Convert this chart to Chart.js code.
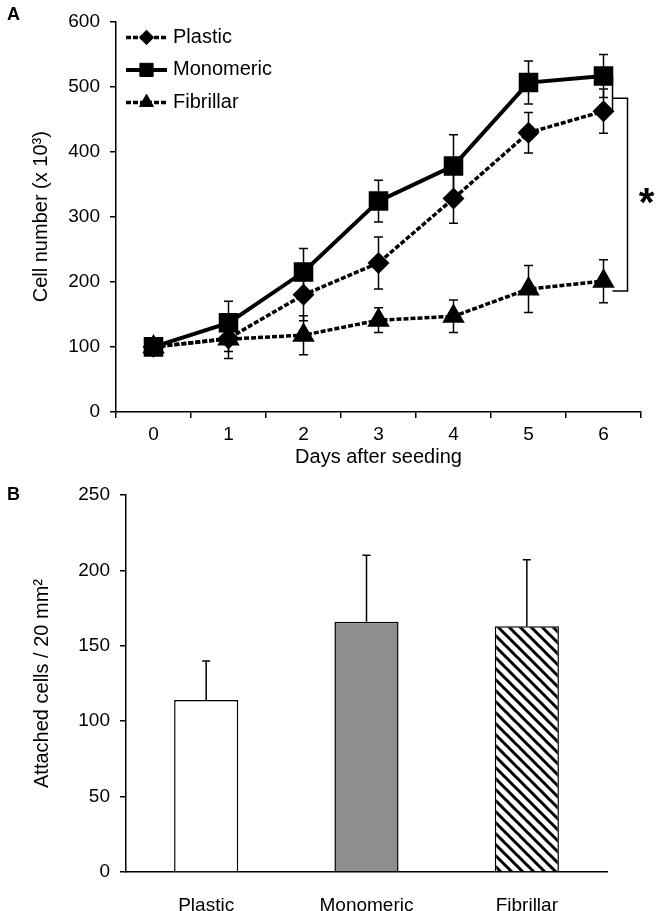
<!DOCTYPE html>
<html>
<head>
<meta charset="utf-8">
<script src="https://cdn.jsdelivr.net/npm/chart.js@4.4.1/dist/chart.umd.min.js"></script>
<style>
    body { margin: 0; background: #fff; }
    #wrap { position: relative; width: 661px; height: 911px; }
    canvas { position: absolute; left: 0; }
    #growthChart { top: 0; }
    #attachChart { top: 470px; }
    .panel { position: absolute; left: 7px; font: bold 18px "Liberation Sans", Arial, sans-serif; line-height: 18px; }
</style>
</head>
<body>
<div id="wrap">
    <canvas id="growthChart" width="661" height="470"></canvas>
    <canvas id="attachChart" width="661" height="441"></canvas>
    <div class="panel" style="top:5px">A</div>
    <div class="panel" style="top:485px">B</div>
</div>
<script>
// Panel A - cell number over time
const days = ['0', '1', '2', '3', '4', '5', '6'];
const plastic = [100, 113, 180, 229, 328, 429, 462];
const plasticErr = [0, 20, 40, 40, 38, 31, 34];
const monomeric = [100, 137, 215, 324, 378, 506, 516];
const monomericErr = [0, 33, 36, 32, 48, 33, 33];
const fibrillar = [100, 112, 118, 141, 147, 189, 201];
const fibrillarErr = [0, 30, 30, 19, 25, 36, 33];
const growthTicks = [0, 100, 200, 300, 400, 500, 600];

// significance brackets at day 6 (values on the y scale)
const innerBracket = [515, 462];
const outerBracket = [482, 186];

// Panel B - attachment
const surfaces = ['Plastic', 'Monomeric', 'Fibrillar'];
const attached = [114, 166, 163];
const attachedErr = [26, 44, 44];
const attachTicks = [0, 50, 100, 150, 200, 250];

const FONT = '"Liberation Sans", Arial, Helvetica, sans-serif';
Chart.defaults.font.family = FONT;
Chart.defaults.font.size = 19;
Chart.defaults.color = '#000';

/**
 * Error bars drawn from each dataset's "errors" array
 */
const errorBars = {
    id: 'errorBars',
    afterDatasetsDraw(chart, args, opts) {
        const ctx = chart.ctx;
        const y = chart.scales.y;
        const cap = opts.cap || 4;
        ctx.save();
        ctx.strokeStyle = '#000';
        ctx.lineWidth = 1.5;
        chart.data.datasets.forEach((ds, i) => {
            if (!ds.errors) return;
            chart.getDatasetMeta(i).data.forEach((el, j) => {
                const e = ds.errors[j];
                if (!e) return;
                const top = y.getPixelForValue(ds.data[j] + e);
                const bot = opts.upperOnly ? el.y : y.getPixelForValue(ds.data[j] - e);
                ctx.beginPath();
                ctx.moveTo(el.x, top);
                ctx.lineTo(el.x, bot);
                ctx.moveTo(el.x - cap, top);
                ctx.lineTo(el.x + cap, top);
                if (!opts.upperOnly) {
                    ctx.moveTo(el.x - cap, bot);
                    ctx.lineTo(el.x + cap, bot);
                }
                ctx.stroke();
            });
        });
        ctx.restore();
    }
};

/**
 * Legend inside the plot: line sample + marker + label
 */
const lineLegend = {
    id: 'lineLegend',
    afterDraw(chart) {
        const ctx = chart.ctx;
        const x0 = chart.chartArea.left + 10;
        chart.data.datasets.forEach((ds, i) => {
            const yy = chart.chartArea.top + 16 + i * 32.5;
            ctx.save();
            ctx.strokeStyle = '#000';
            ctx.fillStyle = '#000';
            ctx.lineWidth = ds.borderWidth;
            ctx.setLineDash(ds.borderDash || []);
            ctx.beginPath();
            ctx.moveTo(x0, yy);
            ctx.lineTo(x0 + 41, yy);
            ctx.stroke();
            ctx.setLineDash([]);
            ctx.lineWidth = 1;
            Chart.helpers.drawPoint(ctx, {
                pointStyle: ds.pointStyle,
                radius: ds.pointRadius * 0.85,
                borderWidth: 1,
                rotation: 0
            }, x0 + 20.5, yy);
            ctx.font = '20px ' + FONT;
            ctx.textBaseline = 'middle';
            ctx.textAlign = 'left';
            ctx.fillText(ds.label, x0 + 47, yy);
            ctx.restore();
        });
    }
};

/**
 * Significance brackets with asterisk
 */
const bracket = {
    id: 'bracket',
    afterDraw(chart) {
        const { ctx } = chart;
        const x = chart.scales.x;
        const y = chart.scales.y;
        const xp = x.getPixelForValue(days.length - 1);
        const xa = xp + 9;
        const xb = xp + 24;
        ctx.save();
        ctx.strokeStyle = '#000';
        ctx.lineWidth = 1.5;
        ctx.beginPath();
        ctx.moveTo(xp + 2, y.getPixelForValue(innerBracket[0]));
        ctx.lineTo(xa, y.getPixelForValue(innerBracket[0]));
        ctx.lineTo(xa, y.getPixelForValue(innerBracket[1]));
        ctx.lineTo(xp + 3, y.getPixelForValue(innerBracket[1]));
        ctx.moveTo(xa, y.getPixelForValue(outerBracket[0]));
        ctx.lineTo(xb, y.getPixelForValue(outerBracket[0]));
        ctx.lineTo(xb, y.getPixelForValue(outerBracket[1]));
        ctx.lineTo(xa, y.getPixelForValue(outerBracket[1]));
        ctx.stroke();
        const mid = (y.getPixelForValue(outerBracket[0]) + y.getPixelForValue(outerBracket[1])) / 2;
        ctx.fillStyle = '#000';
        ctx.font = 'bold 40px ' + FONT;
        ctx.textAlign = 'center';
        ctx.textBaseline = 'alphabetic';
        ctx.fillText('*', xb + 19, mid + 21);
        ctx.restore();
    }
};

function hatchPattern() {
    const c = document.createElement('canvas');
    c.width = 11;
    c.height = 11;
    const g = c.getContext('2d');
    g.fillStyle = '#fff';
    g.fillRect(0, 0, 11, 11);
    g.strokeStyle = '#000';
    g.lineWidth = 3;
    g.beginPath();
    g.moveTo(-2, -2); g.lineTo(13, 13);
    g.moveTo(-2, 9); g.lineTo(2, 13);
    g.moveTo(9, -2); g.lineTo(13, 2);
    g.stroke();
    return g.createPattern(c, 'repeat');
}

const axisGrid = { drawOnChartArea: false, color: '#000', lineWidth: 1.5, tickLength: 6 };
const axisBorder = { color: '#000', width: 1.5 };

new Chart(document.getElementById('growthChart'), {
    type: 'line',
    data: {
        labels: days,
        datasets: [
            {
                label: 'Plastic',
                data: plastic,
                errors: plasticErr,
                borderColor: '#000',
                backgroundColor: '#000',
                borderWidth: 3.5,
                borderDash: [5, 2],
                pointStyle: 'rectRot',
                pointRadius: 8.5,
                tension: 0
            },
            {
                label: 'Monomeric',
                data: monomeric,
                errors: monomericErr,
                borderColor: '#000',
                backgroundColor: '#000',
                borderWidth: 4,
                pointStyle: 'rect',
                pointRadius: 11,
                tension: 0
            },
            {
                label: 'Fibrillar',
                data: fibrillar,
                errors: fibrillarErr,
                borderColor: '#000',
                backgroundColor: '#000',
                borderWidth: 3.5,
                borderDash: [5, 2],
                pointStyle: 'triangle',
                pointRadius: 9.5,
                tension: 0
            }
        ]
    },
    options: {
        responsive: false,
        animation: false,
        layout: { padding: { left: 0, top: 16, right: 20, bottom: 0 } },
        plugins: {
            legend: { display: false },
            tooltip: { enabled: false },
            errorBars: { cap: 4.5 }
        },
        scales: {
            x: {
                offset: true,
                grid: { offset: true, drawOnChartArea: false, color: '#000', lineWidth: 1.5, tickLength: 6 },
                border: axisBorder,
                ticks: { padding: 5, maxRotation: 0 },
                title: { display: true, text: 'Days after seeding', font: { size: 20 }, padding: { top: 0, bottom: 1 } },
                afterFit(s) { s.height = 58; }
            },
            y: {
                min: 0,
                max: 600,
                afterBuildTicks(s) { s.ticks = growthTicks.map(v => ({ value: v })); },
                grid: axisGrid,
                border: axisBorder,
                ticks: { padding: 10 },
                title: { display: true, text: 'Cell number (x 10³)', font: { size: 20 }, padding: { top: 29, bottom: 0 } },
                afterFit(s) { s.width = 116; }
            }
        }
    },
    plugins: [errorBars, lineLegend, bracket]
});

new Chart(document.getElementById('attachChart'), {
    type: 'bar',
    data: {
        labels: surfaces,
        datasets: [{
            data: attached,
            errors: attachedErr,
            backgroundColor: ['#fff', '#8e8e8e', hatchPattern()],
            borderColor: '#000',
            borderWidth: 1.5,
            barPercentage: 0.4,
            categoryPercentage: 1
        }]
    },
    options: {
        responsive: false,
        animation: false,
        layout: { padding: { left: 0, top: 25, right: 54, bottom: 0 } },
        plugins: {
            legend: { display: false },
            tooltip: { enabled: false },
            errorBars: { cap: 4, upperOnly: true }
        },
        scales: {
            x: {
                grid: { display: false },
                border: axisBorder,
                ticks: { padding: 14 },
                afterFit(s) { s.height = 39; }
            },
            y: {
                min: 0,
                max: 250,
                afterBuildTicks(s) { s.ticks = attachTicks.map(v => ({ value: v })); },
                grid: axisGrid,
                border: axisBorder,
                ticks: { padding: 10 },
                title: { display: true, text: 'Attached cells / 20 mm²', font: { size: 20 }, padding: { top: 30, bottom: 0 } },
                afterFit(s) { s.width = 126; }
            }
        }
    },
    plugins: [errorBars]
});
</script>
</body>
</html>
